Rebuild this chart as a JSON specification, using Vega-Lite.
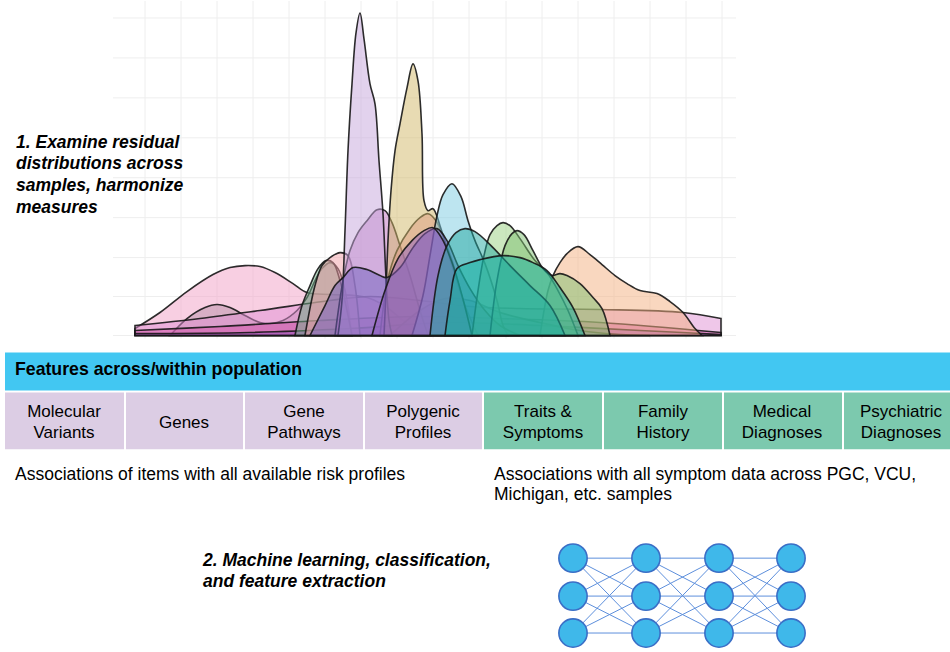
{
  "$schema": "https://vega.github.io/schema/vega-lite/v6.json",
  "width": 950,
  "height": 652,
  "padding": 0,
  "autosize": {"type": "fit", "contains": "padding"},
  "background": "white",
  "config": {"view": {"stroke": null}},
  "datasets": {
    "grid": [
      {"x": 145, "y": 0, "x2": 145, "y2": 338}, {"x": 181, "y": 0, "x2": 181, "y2": 338},
      {"x": 217, "y": 0, "x2": 217, "y2": 338}, {"x": 253, "y": 0, "x2": 253, "y2": 338},
      {"x": 289, "y": 0, "x2": 289, "y2": 338}, {"x": 325, "y": 0, "x2": 325, "y2": 338},
      {"x": 361, "y": 0, "x2": 361, "y2": 338}, {"x": 397, "y": 0, "x2": 397, "y2": 338},
      {"x": 433, "y": 0, "x2": 433, "y2": 338}, {"x": 469, "y": 0, "x2": 469, "y2": 338},
      {"x": 506, "y": 0, "x2": 506, "y2": 338}, {"x": 542, "y": 0, "x2": 542, "y2": 338},
      {"x": 578, "y": 0, "x2": 578, "y2": 338}, {"x": 614, "y": 0, "x2": 614, "y2": 338},
      {"x": 650, "y": 0, "x2": 650, "y2": 338}, {"x": 686, "y": 0, "x2": 686, "y2": 338},
      {"x": 722, "y": 0, "x2": 722, "y2": 338},
      {"x": 113, "y": 17, "x2": 736, "y2": 17}, {"x": 113, "y": 57, "x2": 736, "y2": 57},
      {"x": 113, "y": 97, "x2": 736, "y2": 97}, {"x": 113, "y": 137, "x2": 736, "y2": 137},
      {"x": 113, "y": 177, "x2": 736, "y2": 177}, {"x": 113, "y": 217, "x2": 736, "y2": 217},
      {"x": 113, "y": 257, "x2": 736, "y2": 257}, {"x": 113, "y": 296, "x2": 736, "y2": 296},
      {"x": 113, "y": 335, "x2": 736, "y2": 335}
    ],
    "curves": [
      {"s": "01", "x": 135, "y": 328}, {"s": "01", "x": 160, "y": 312}, {"s": "01", "x": 187, "y": 291}, {"s": "01", "x": 213, "y": 274}, {"s": "01", "x": 230, "y": 267}, {"s": "01", "x": 245, "y": 265}, {"s": "01", "x": 260, "y": 266}, {"s": "01", "x": 275, "y": 272}, {"s": "01", "x": 293, "y": 283}, {"s": "01", "x": 307, "y": 292}, {"s": "01", "x": 330, "y": 294}, {"s": "01", "x": 355, "y": 295}, {"s": "01", "x": 370, "y": 298}, {"s": "01", "x": 387, "y": 307}, {"s": "01", "x": 403, "y": 320}, {"s": "01", "x": 417, "y": 330}, {"s": "01", "x": 432, "y": 335},
      {"s": "02", "x": 170, "y": 335}, {"s": "02", "x": 187, "y": 318}, {"s": "02", "x": 205, "y": 307}, {"s": "02", "x": 217, "y": 304}, {"s": "02", "x": 230, "y": 307}, {"s": "02", "x": 245, "y": 315}, {"s": "02", "x": 260, "y": 322}, {"s": "02", "x": 270, "y": 323}, {"s": "02", "x": 283, "y": 320}, {"s": "02", "x": 297, "y": 310}, {"s": "02", "x": 307, "y": 297}, {"s": "02", "x": 315, "y": 280}, {"s": "02", "x": 322, "y": 268}, {"s": "02", "x": 330, "y": 262}, {"s": "02", "x": 338, "y": 268}, {"s": "02", "x": 345, "y": 290}, {"s": "02", "x": 352, "y": 335},
      {"s": "03", "x": 135, "y": 325}, {"s": "03", "x": 200, "y": 318}, {"s": "03", "x": 260, "y": 310}, {"s": "03", "x": 330, "y": 300}, {"s": "03", "x": 370, "y": 296}, {"s": "03", "x": 420, "y": 300}, {"s": "03", "x": 470, "y": 306}, {"s": "03", "x": 520, "y": 308}, {"s": "03", "x": 600, "y": 309}, {"s": "03", "x": 683, "y": 312}, {"s": "03", "x": 721, "y": 318},
      {"s": "04", "x": 135, "y": 330}, {"s": "04", "x": 220, "y": 326}, {"s": "04", "x": 320, "y": 320}, {"s": "04", "x": 420, "y": 316}, {"s": "04", "x": 500, "y": 318}, {"s": "04", "x": 600, "y": 322}, {"s": "04", "x": 721, "y": 332},
      {"s": "05", "x": 135, "y": 333}, {"s": "05", "x": 250, "y": 332}, {"s": "05", "x": 350, "y": 328}, {"s": "05", "x": 450, "y": 322}, {"s": "05", "x": 540, "y": 325}, {"s": "05", "x": 640, "y": 330}, {"s": "05", "x": 721, "y": 334},
      {"s": "06", "x": 390, "y": 335}, {"s": "06", "x": 420, "y": 310}, {"s": "06", "x": 445, "y": 298}, {"s": "06", "x": 470, "y": 300}, {"s": "06", "x": 500, "y": 312}, {"s": "06", "x": 540, "y": 322}, {"s": "06", "x": 580, "y": 330}, {"s": "06", "x": 620, "y": 334}, {"s": "06", "x": 650, "y": 335},
      {"s": "07", "x": 295, "y": 335}, {"s": "07", "x": 302, "y": 305}, {"s": "07", "x": 310, "y": 285}, {"s": "07", "x": 318, "y": 268}, {"s": "07", "x": 326, "y": 260}, {"s": "07", "x": 333, "y": 262}, {"s": "07", "x": 340, "y": 280}, {"s": "07", "x": 347, "y": 310}, {"s": "07", "x": 352, "y": 335},
      {"s": "08", "x": 305, "y": 335}, {"s": "08", "x": 315, "y": 285}, {"s": "08", "x": 322, "y": 265}, {"s": "08", "x": 330, "y": 257}, {"s": "08", "x": 340, "y": 252}, {"s": "08", "x": 348, "y": 255}, {"s": "08", "x": 355, "y": 285}, {"s": "08", "x": 360, "y": 335},
      {"s": "09", "x": 335, "y": 335}, {"s": "09", "x": 343, "y": 280}, {"s": "09", "x": 350, "y": 250}, {"s": "09", "x": 358, "y": 232}, {"s": "09", "x": 367, "y": 220}, {"s": "09", "x": 377, "y": 209}, {"s": "09", "x": 385, "y": 210}, {"s": "09", "x": 392, "y": 222}, {"s": "09", "x": 400, "y": 245}, {"s": "09", "x": 410, "y": 275}, {"s": "09", "x": 420, "y": 310}, {"s": "09", "x": 428, "y": 335},
      {"s": "10", "x": 380, "y": 335}, {"s": "10", "x": 388, "y": 278}, {"s": "10", "x": 397, "y": 250}, {"s": "10", "x": 410, "y": 228}, {"s": "10", "x": 420, "y": 217}, {"s": "10", "x": 428, "y": 213}, {"s": "10", "x": 436, "y": 220}, {"s": "10", "x": 444, "y": 238}, {"s": "10", "x": 453, "y": 263}, {"s": "10", "x": 463, "y": 300}, {"s": "10", "x": 472, "y": 335},
      {"s": "11", "x": 338, "y": 335}, {"s": "11", "x": 342, "y": 300}, {"s": "11", "x": 345, "y": 230}, {"s": "11", "x": 348, "y": 150}, {"s": "11", "x": 352, "y": 83}, {"s": "11", "x": 356, "y": 32}, {"s": "11", "x": 360, "y": 12}, {"s": "11", "x": 364, "y": 38}, {"s": "11", "x": 370, "y": 83}, {"s": "11", "x": 375, "y": 103}, {"s": "11", "x": 379, "y": 160}, {"s": "11", "x": 383, "y": 213}, {"s": "11", "x": 386, "y": 277}, {"s": "11", "x": 389, "y": 320}, {"s": "11", "x": 392, "y": 335},
      {"s": "12", "x": 384, "y": 335}, {"s": "12", "x": 386, "y": 290}, {"s": "12", "x": 388, "y": 240}, {"s": "12", "x": 391, "y": 190}, {"s": "12", "x": 395, "y": 150}, {"s": "12", "x": 400, "y": 123}, {"s": "12", "x": 407, "y": 87}, {"s": "12", "x": 413, "y": 63}, {"s": "12", "x": 418, "y": 80}, {"s": "12", "x": 422, "y": 133}, {"s": "12", "x": 424, "y": 200}, {"s": "12", "x": 428, "y": 210}, {"s": "12", "x": 433, "y": 208}, {"s": "12", "x": 440, "y": 225}, {"s": "12", "x": 452, "y": 265}, {"s": "12", "x": 465, "y": 305}, {"s": "12", "x": 478, "y": 335},
      {"s": "13", "x": 412, "y": 335}, {"s": "13", "x": 423, "y": 295}, {"s": "13", "x": 430, "y": 255}, {"s": "13", "x": 437, "y": 215}, {"s": "13", "x": 443, "y": 194}, {"s": "13", "x": 452, "y": 183}, {"s": "13", "x": 461, "y": 196}, {"s": "13", "x": 468, "y": 220}, {"s": "13", "x": 475, "y": 240}, {"s": "13", "x": 485, "y": 263}, {"s": "13", "x": 497, "y": 300}, {"s": "13", "x": 503, "y": 325}, {"s": "13", "x": 508, "y": 335},
      {"s": "14", "x": 310, "y": 335}, {"s": "14", "x": 325, "y": 305}, {"s": "14", "x": 335, "y": 285}, {"s": "14", "x": 343, "y": 277}, {"s": "14", "x": 353, "y": 267}, {"s": "14", "x": 367, "y": 269}, {"s": "14", "x": 380, "y": 275}, {"s": "14", "x": 387, "y": 277}, {"s": "14", "x": 400, "y": 267}, {"s": "14", "x": 413, "y": 247}, {"s": "14", "x": 425, "y": 233}, {"s": "14", "x": 437, "y": 228}, {"s": "14", "x": 447, "y": 240}, {"s": "14", "x": 458, "y": 265}, {"s": "14", "x": 470, "y": 288}, {"s": "14", "x": 485, "y": 310}, {"s": "14", "x": 500, "y": 325}, {"s": "14", "x": 520, "y": 335},
      {"s": "15", "x": 372, "y": 335}, {"s": "15", "x": 385, "y": 290}, {"s": "15", "x": 398, "y": 258}, {"s": "15", "x": 412, "y": 240}, {"s": "15", "x": 424, "y": 230}, {"s": "15", "x": 433, "y": 227}, {"s": "15", "x": 442, "y": 238}, {"s": "15", "x": 452, "y": 262}, {"s": "15", "x": 462, "y": 295}, {"s": "15", "x": 472, "y": 335},
      {"s": "16", "x": 540, "y": 335}, {"s": "16", "x": 548, "y": 290}, {"s": "16", "x": 553, "y": 275}, {"s": "16", "x": 560, "y": 262}, {"s": "16", "x": 567, "y": 253}, {"s": "16", "x": 578, "y": 246}, {"s": "16", "x": 590, "y": 254}, {"s": "16", "x": 602, "y": 264}, {"s": "16", "x": 615, "y": 275}, {"s": "16", "x": 627, "y": 283}, {"s": "16", "x": 640, "y": 290}, {"s": "16", "x": 657, "y": 293}, {"s": "16", "x": 670, "y": 301}, {"s": "16", "x": 683, "y": 312}, {"s": "16", "x": 695, "y": 328}, {"s": "16", "x": 702, "y": 335},
      {"s": "17", "x": 472, "y": 335}, {"s": "17", "x": 478, "y": 290}, {"s": "17", "x": 484, "y": 255}, {"s": "17", "x": 490, "y": 234}, {"s": "17", "x": 497, "y": 225}, {"s": "17", "x": 503, "y": 222}, {"s": "17", "x": 510, "y": 225}, {"s": "17", "x": 520, "y": 238}, {"s": "17", "x": 535, "y": 260}, {"s": "17", "x": 547, "y": 272}, {"s": "17", "x": 558, "y": 290}, {"s": "17", "x": 568, "y": 310}, {"s": "17", "x": 578, "y": 335},
      {"s": "18", "x": 490, "y": 335}, {"s": "18", "x": 497, "y": 280}, {"s": "18", "x": 505, "y": 245}, {"s": "18", "x": 512, "y": 233}, {"s": "18", "x": 517, "y": 230}, {"s": "18", "x": 524, "y": 234}, {"s": "18", "x": 533, "y": 250}, {"s": "18", "x": 543, "y": 268}, {"s": "18", "x": 552, "y": 275}, {"s": "18", "x": 560, "y": 273}, {"s": "18", "x": 567, "y": 275}, {"s": "18", "x": 580, "y": 283}, {"s": "18", "x": 593, "y": 297}, {"s": "18", "x": 602, "y": 308}, {"s": "18", "x": 610, "y": 335},
      {"s": "19", "x": 430, "y": 335}, {"s": "19", "x": 438, "y": 275}, {"s": "19", "x": 447, "y": 245}, {"s": "19", "x": 456, "y": 232}, {"s": "19", "x": 465, "y": 228}, {"s": "19", "x": 475, "y": 231}, {"s": "19", "x": 490, "y": 244}, {"s": "19", "x": 510, "y": 265}, {"s": "19", "x": 530, "y": 285}, {"s": "19", "x": 550, "y": 305}, {"s": "19", "x": 565, "y": 335},
      {"s": "20", "x": 445, "y": 335}, {"s": "20", "x": 450, "y": 300}, {"s": "20", "x": 457, "y": 268}, {"s": "20", "x": 470, "y": 262}, {"s": "20", "x": 480, "y": 259}, {"s": "20", "x": 503, "y": 255}, {"s": "20", "x": 520, "y": 257}, {"s": "20", "x": 533, "y": 262}, {"s": "20", "x": 547, "y": 270}, {"s": "20", "x": 560, "y": 287}, {"s": "20", "x": 573, "y": 307}, {"s": "20", "x": 585, "y": 335}
    ],
    "boxes": [
      {"kind": "band", "x": 5, "x2": 950, "y": 352, "y2": 390},
      {"kind": "risk", "x": 5, "x2": 124, "y": 392, "y2": 449},
      {"kind": "risk", "x": 126, "x2": 243, "y": 392, "y2": 449},
      {"kind": "risk", "x": 245, "x2": 363, "y": 392, "y2": 449},
      {"kind": "risk", "x": 365, "x2": 482, "y": 392, "y2": 449},
      {"kind": "symptom", "x": 484, "x2": 602, "y": 392, "y2": 449},
      {"kind": "symptom", "x": 604, "x2": 722, "y": 392, "y2": 449},
      {"kind": "symptom", "x": 724, "x2": 842, "y": 392, "y2": 449},
      {"kind": "symptom", "x": 844, "x2": 950, "y": 392, "y2": 449}
    ],
    "texts": [
      {"style": "bi", "t": "1. Examine residual", "x": 16, "y": 142},
      {"style": "bi", "t": "distributions across", "x": 16, "y": 163},
      {"style": "bi", "t": "samples, harmonize", "x": 16, "y": 185},
      {"style": "bi", "t": "measures", "x": 16, "y": 207},
      {"style": "bi", "t": "2. Machine learning, classification,", "x": 203, "y": 561},
      {"style": "bi", "t": "and feature extraction", "x": 203, "y": 582},
      {"style": "b", "t": "Features across/within population", "x": 15, "y": 370},
      {"style": "c", "t": "Molecular", "x": 64, "y": 412},
      {"style": "c", "t": "Variants", "x": 64, "y": 433},
      {"style": "c", "t": "Genes", "x": 184, "y": 423},
      {"style": "c", "t": "Gene", "x": 304, "y": 412},
      {"style": "c", "t": "Pathways", "x": 304, "y": 433},
      {"style": "c", "t": "Polygenic", "x": 423, "y": 412},
      {"style": "c", "t": "Profiles", "x": 423, "y": 433},
      {"style": "c", "t": "Traits &", "x": 543, "y": 412},
      {"style": "c", "t": "Symptoms", "x": 543, "y": 433},
      {"style": "c", "t": "Family", "x": 663, "y": 412},
      {"style": "c", "t": "History", "x": 663, "y": 433},
      {"style": "c", "t": "Medical", "x": 782, "y": 412},
      {"style": "c", "t": "Diagnoses", "x": 782, "y": 433},
      {"style": "c", "t": "Psychiatric", "x": 901, "y": 412},
      {"style": "c", "t": "Diagnoses", "x": 901, "y": 433},
      {"style": "r", "t": "Associations of items with all available risk profiles", "x": 15, "y": 475},
      {"style": "r", "t": "Associations with all symptom data across PGC, VCU,", "x": 494, "y": 475},
      {"style": "r", "t": "Michigan, etc. samples", "x": 494, "y": 495}
    ],
    "nodes": [
      {"x": 573, "y": 558}, {"x": 573, "y": 596}, {"x": 573, "y": 633},
      {"x": 646, "y": 558}, {"x": 646, "y": 596}, {"x": 646, "y": 633},
      {"x": 719, "y": 558}, {"x": 719, "y": 596}, {"x": 719, "y": 633},
      {"x": 791, "y": 558}, {"x": 791, "y": 596}, {"x": 791, "y": 633}
    ],
    "edges": [
      {"x": 573, "y": 558, "x2": 646, "y2": 558}, {"x": 573, "y": 558, "x2": 646, "y2": 596}, {"x": 573, "y": 558, "x2": 646, "y2": 633},
      {"x": 573, "y": 596, "x2": 646, "y2": 558}, {"x": 573, "y": 596, "x2": 646, "y2": 596}, {"x": 573, "y": 596, "x2": 646, "y2": 633},
      {"x": 573, "y": 633, "x2": 646, "y2": 558}, {"x": 573, "y": 633, "x2": 646, "y2": 596}, {"x": 573, "y": 633, "x2": 646, "y2": 633},
      {"x": 646, "y": 558, "x2": 719, "y2": 558}, {"x": 646, "y": 558, "x2": 719, "y2": 596}, {"x": 646, "y": 558, "x2": 719, "y2": 633},
      {"x": 646, "y": 596, "x2": 719, "y2": 558}, {"x": 646, "y": 596, "x2": 719, "y2": 596}, {"x": 646, "y": 596, "x2": 719, "y2": 633},
      {"x": 646, "y": 633, "x2": 719, "y2": 558}, {"x": 646, "y": 633, "x2": 719, "y2": 596}, {"x": 646, "y": 633, "x2": 719, "y2": 633},
      {"x": 719, "y": 558, "x2": 791, "y2": 558}, {"x": 719, "y": 558, "x2": 791, "y2": 596}, {"x": 719, "y": 558, "x2": 791, "y2": 633},
      {"x": 719, "y": 596, "x2": 791, "y2": 558}, {"x": 719, "y": 596, "x2": 791, "y2": 596}, {"x": 719, "y": 596, "x2": 791, "y2": 633},
      {"x": 719, "y": 633, "x2": 791, "y2": 558}, {"x": 719, "y": 633, "x2": 791, "y2": 596}, {"x": 719, "y": 633, "x2": 791, "y2": 633}
    ]
  },
  "encoding": {
    "x": {"field": "x", "type": "quantitative", "axis": null, "scale": {"domain": [0, 950], "nice": false, "zero": false}},
    "y": {"field": "y", "type": "quantitative", "axis": null, "scale": {"domain": [652, 0], "nice": false, "zero": false}}
  },
  "layer": [
    {
      "data": {"name": "grid"},
      "mark": {"type": "rule", "color": "#eeeeee", "strokeWidth": 1},
      "encoding": {"x2": {"field": "x2"}, "y2": {"field": "y2"}}
    },
    {
      "data": {"name": "curves"},
      "mark": {"type": "area", "interpolate": "catmull-rom", "fillOpacity": 0.5, "stroke": "#161616", "strokeWidth": 1.6, "strokeOpacity": 0.9},
      "encoding": {
        "y": {"field": "y", "type": "quantitative", "stack": null},
        "y2": {"datum": 335},
        "color": {"field": "s", "type": "nominal", "legend": null, "scale": {
          "domain": ["01","02","03","04","05","06","07","08","09","10","11","12","13","14","15","16","17","18","19","20"],
          "range": ["#f2a0c6","#b890a8","#e090d4","#d050a8","#9050b8","#5a78d0","#70b088","#f2a0a8","#c070c0","#e88098","#c6a6dc","#d2b868","#7ccce2","#7060c0","#9060c0","#f4b080","#98d080","#7ec070","#22a8a0","#14b0a0"]
        }}
      }
    },
    {
      "data": {"name": "boxes"},
      "mark": {"type": "rect"},
      "encoding": {
        "x2": {"field": "x2"}, "y2": {"field": "y2"},
        "fill": {"field": "kind", "type": "nominal", "legend": null, "scale": {"domain": ["band", "risk", "symptom"], "range": ["#42c7f2", "#dccde4", "#7cc9ae"]}}
      }
    },
    {
      "data": {"name": "texts"},
      "transform": [{"filter": "datum.style == 'bi'"}],
      "mark": {"type": "text", "align": "left", "baseline": "middle", "font": "Liberation Sans", "fontSize": 17.5, "fontWeight": "bold", "fontStyle": "italic", "color": "#000"},
      "encoding": {"text": {"field": "t"}}
    },
    {
      "data": {"name": "texts"},
      "transform": [{"filter": "datum.style == 'b'"}],
      "mark": {"type": "text", "align": "left", "baseline": "middle", "font": "Liberation Sans", "fontSize": 17.7, "fontWeight": "bold", "color": "#000"},
      "encoding": {"text": {"field": "t"}}
    },
    {
      "data": {"name": "texts"},
      "transform": [{"filter": "datum.style == 'c'"}],
      "mark": {"type": "text", "align": "center", "baseline": "middle", "font": "Liberation Sans", "fontSize": 17, "color": "#000"},
      "encoding": {"text": {"field": "t"}}
    },
    {
      "data": {"name": "texts"},
      "transform": [{"filter": "datum.style == 'r'"}],
      "mark": {"type": "text", "align": "left", "baseline": "middle", "font": "Liberation Sans", "fontSize": 17.5, "color": "#000"},
      "encoding": {"text": {"field": "t"}}
    },
    {
      "data": {"name": "edges"},
      "mark": {"type": "rule", "color": "#5d8fdc", "strokeWidth": 1},
      "encoding": {"x2": {"field": "x2"}, "y2": {"field": "y2"}}
    },
    {
      "data": {"name": "nodes"},
      "mark": {"type": "point", "shape": "circle", "filled": true, "size": 800, "fill": "#3fb8ea", "stroke": "#3a6ec6", "strokeWidth": 1.6, "opacity": 1}
    }
  ],
  "resolve": {"scale": {"color": "independent", "fill": "independent"}}
}
